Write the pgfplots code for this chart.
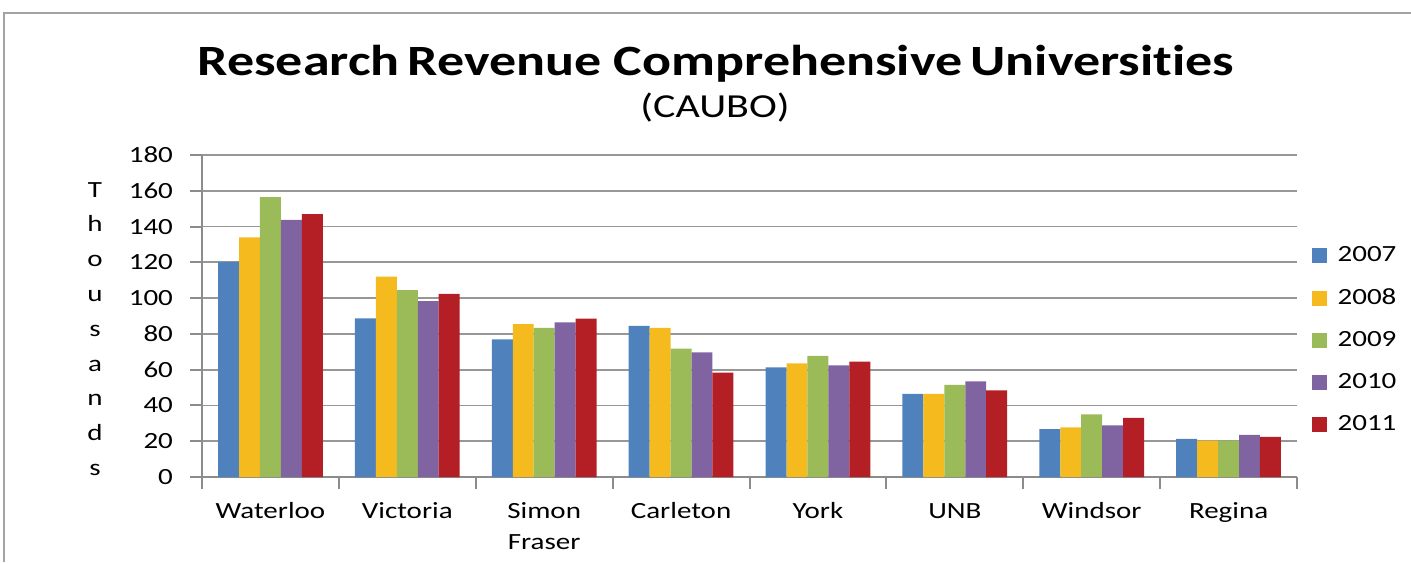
\documentclass[border=0pt]{standalone}
\usepackage{fontspec}
\setmainfont{Carlito}[FakeStretch=1.25, Ligatures=NoCommon]
\usepackage{pgfplots}
\pgfplotsset{compat=1.18}
\definecolor{c07}{HTML}{4F81BD}
\definecolor{c08}{HTML}{F5BA1E}
\definecolor{c09}{HTML}{9BBB59}
\definecolor{c10}{HTML}{8064A2}
\definecolor{c11}{HTML}{B31F24}
\definecolor{axgray}{HTML}{8C8C8C}
\begin{document}
\begin{tikzpicture}
\useasboundingbox (0,0) rectangle (705.5pt,281pt);
\draw[axgray!80, line width=0.8pt] (2pt,0) -- (2pt,274.5pt) -- (710pt,274.5pt);
\node[font=\bfseries\fontsize{21.6}{26}\selectfont] at (358pt,249pt) {Research\hspace{-2pt} Revenue Comprehensive\hspace{-2pt} Universities};
\node[font=\fontsize{16.8}{20}\selectfont] at (357.5pt,227pt) {(CAUBO)};
\node[align=center, font=\fontsize{11.6}{17.4}\selectfont, inner sep=0pt] at (47.5pt,116.5pt) {T\\h\\o\\u\\s\\a\\n\\d\\s};
\begin{axis}[
  at={(101pt,42.5pt)}, anchor=south west,
  scale only axis, width=547.5pt, height=161pt,
  ymin=0, ymax=180, ytick={0,20,...,180},
  xmin=-0.5, xmax=7.5,
  xtick={0,...,7},
  xticklabels={Waterloo,Victoria,{Simon\\Fraser},Carleton,York,UNB\vphantom{l},Windsor,Regina},
  xticklabel style={align=center, font=\fontsize{11.6}{15.5}\selectfont, yshift=-3pt},
  yticklabel style={font=\fontsize{11.6}{14}\selectfont, xshift=-5pt},
  /pgf/number format/assume math mode=true,
  major x tick style={draw=none},
  minor xtick={-0.5,0.5,...,7.5},
  xtick pos=bottom, ytick pos=left,
  tick align=outside,
  major tick length=6pt, minor tick length=6pt,
  tick style={axgray, line width=1pt},
  ymajorgrids, grid style={axgray!90, line width=0.9pt},
  axis x line*=bottom, axis y line*=left,
  axis line style={axgray, line width=1.1pt, -},
  ybar=0pt, bar width=0.153,
  legend style={at={(1.0075,0.425)}, anchor=west, draw=none, fill=none,
    font=\fontsize{11.6}{14}\selectfont, row sep=8pt, cells={anchor=west},
    nodes={inner xsep=5.5pt}},
  legend image code/.code={\fill[#1] (0pt,-3.75pt) rectangle (7.5pt,3.75pt);},
]
\addplot[fill=c07, draw=none] coordinates {(0,120.3) (1,88.7) (2,77) (3,84.5) (4,61.3) (5,46.4) (6,26.8) (7,21.3)};
\addplot[fill=c08, draw=none] coordinates {(0,134) (1,112) (2,85.4) (3,83.4) (4,63.5) (5,46.4) (6,27.7) (7,20.4)};
\addplot[fill=c09, draw=none] coordinates {(0,156.4) (1,104.5) (2,83.4) (3,71.8) (4,67.7) (5,51.5) (6,35) (7,20.4)};
\addplot[fill=c10, draw=none] coordinates {(0,143.8) (1,98.3) (2,86.5) (3,69.7) (4,62.4) (5,53.5) (6,28.9) (7,23.6)};
\addplot[fill=c11, draw=none] coordinates {(0,147) (1,102.3) (2,88.6) (3,58.4) (4,64.5) (5,48.4) (6,33) (7,22.5)};
\legend{2007,2008,2009,2010,2011}
\end{axis}
\end{tikzpicture}
\end{document}
